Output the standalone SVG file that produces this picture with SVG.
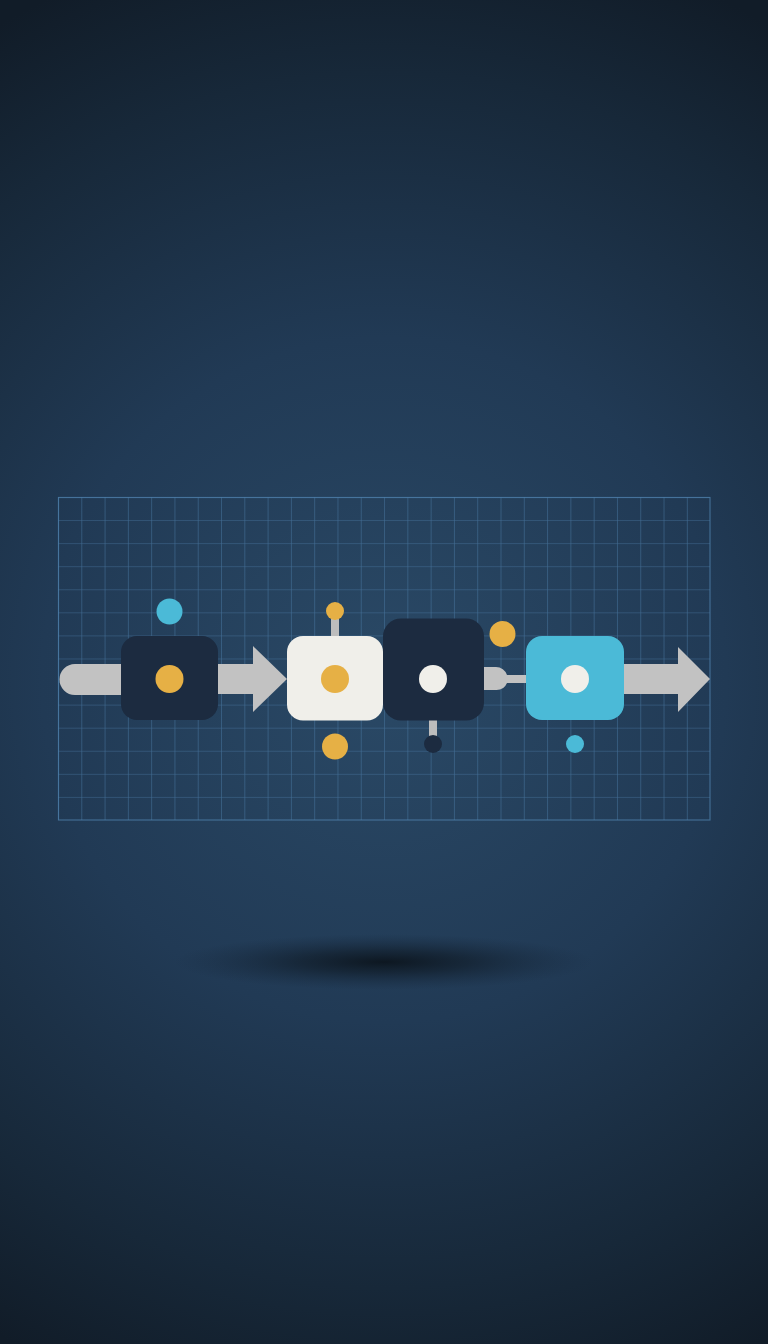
<svg xmlns="http://www.w3.org/2000/svg" width="768" height="1344" viewBox="0 0 768 1344">
  <defs>
    <radialGradient id="bg" cx="384" cy="680" r="760" gradientUnits="userSpaceOnUse">
      <stop offset="0" stop-color="#2a4966"/>
      <stop offset="0.45" stop-color="#213a55"/>
      <stop offset="0.8" stop-color="#172839"/>
      <stop offset="1" stop-color="#111c28"/>
    </radialGradient>
    <radialGradient id="shadow" cx="0.5" cy="0.5" r="0.5">
      <stop offset="0" stop-color="#0c151e" stop-opacity="0.95"/>
      <stop offset="0.4" stop-color="#0f1a25" stop-opacity="0.6"/>
      <stop offset="1" stop-color="#15263a" stop-opacity="0"/>
    </radialGradient>
    <pattern id="grid" x="58" y="497" width="23.29" height="23.07" patternUnits="userSpaceOnUse">
      <path d="M0 0 H23.29 M0 0 V23.07" fill="none" stroke="#4f80ad" stroke-opacity="0.7" stroke-width="1.2"/>
    </pattern>
    <style>
      .bar { fill: #c2c2c2; }
      .stem { fill: #bdbdbd; }
      .dark { fill: #1c2b40; }
      .light { fill: #f0efea; }
      .cyan { fill: #4bbad7; }
      .orange { fill: #e6b045; }
    </style>
  </defs>

  <rect width="768" height="1344" fill="url(#bg)"/>

  <!-- grid -->
  <g id="grid-panel">
    <rect x="58" y="497" width="652" height="323" fill="url(#grid)"/>
    <rect x="58.5" y="497.5" width="651.5" height="322.5" fill="none" stroke="#4f80ad" stroke-opacity="0.7" stroke-width="1.2"/>
  </g>

  <!-- shadow -->
  <ellipse cx="384" cy="962" rx="210" ry="28" fill="url(#shadow)"/>

  <!-- connectors -->
  <g id="connectors">
    <path class="bar" d="M75 664 H121 V695 H75 A15.5 15.5 0 0 1 75 664 Z"/>
    <path class="bar" d="M218 664 H253 V646 L287 679 L253 712 V694 H218 Z"/>
    <path class="bar" d="M484 667 H496 A11.5 11.5 0 0 1 507 675 H527 V683 H507 A11.5 11.5 0 0 1 496 690 H484 Z"/>
    <path class="bar" d="M623 664 H678 V647 L710 679 L678 712 V694 H623 Z"/>
  </g>

  <g id="node-1">
    <rect class="dark" x="121" y="636" width="97" height="84" rx="16"/>
    <circle class="orange" cx="169.5" cy="679" r="14"/>
    <circle class="cyan" cx="169.5" cy="611.5" r="13"/>
  </g>

  <g id="node-2">
    <rect class="stem" x="331" y="612" width="8" height="26"/>
    <circle class="orange" cx="335" cy="611" r="9"/>
    <rect class="light" x="287" y="636" width="96" height="84.5" rx="16"/>
    <circle class="orange" cx="335" cy="679" r="14"/>
    <circle class="orange" cx="335" cy="746.5" r="13"/>
  </g>

  <g id="node-3">
    <rect class="stem" x="429" y="715" width="8" height="26"/>
    <circle class="dark" cx="433" cy="744" r="9"/>
    <rect class="dark" x="383" y="618.5" width="101" height="102" rx="18"/>
    <circle class="light" cx="433" cy="679" r="14"/>
    <circle class="orange" cx="502.5" cy="634" r="13"/>
  </g>

  <g id="node-4">
    <rect class="cyan" x="526" y="636" width="98" height="84" rx="16"/>
    <circle class="light" cx="575" cy="679" r="14"/>
    <circle class="cyan" cx="575" cy="744" r="9"/>
  </g>
</svg>
